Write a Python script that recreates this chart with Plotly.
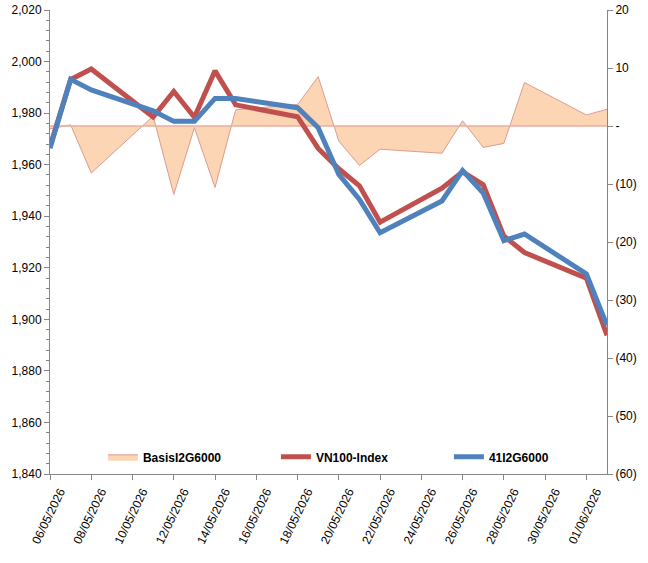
import plotly.graph_objects as go

dates = ["2026-05-06", "2026-05-07", "2026-05-08", "2026-05-11", "2026-05-12",
         "2026-05-13", "2026-05-14", "2026-05-15", "2026-05-18", "2026-05-19",
         "2026-05-20", "2026-05-21", "2026-05-22", "2026-05-25", "2026-05-26",
         "2026-05-27", "2026-05-28", "2026-05-29", "2026-06-01", "2026-06-02"]

vn100 = [1967.0, 1993.0, 1997.1, 1978.5, 1988.4, 1978.4, 1996.4, 1983.2, 1978.6, 1966.3,
         1958.4, 1951.8, 1937.7, 1950.9, 1957.2, 1952.2, 1932.3, 1925.9, 1916.0, 1893.8]

i41 = [1966.4, 1993.1, 1989.0, 1980.9, 1976.8, 1976.8, 1985.7, 1985.7, 1982.1, 1974.3,
       1956.2, 1946.5, 1933.6, 1945.9, 1957.7, 1949.0, 1930.5, 1933.1, 1917.6, 1897.6]

basis = [-0.5, 0.2, -8.1, 1.7, -11.8, -0.3, -10.6, 2.8, 3.7, 8.5,
         -2.6, -6.8, -4.0, -4.7, 0.9, -3.7, -3.0, 7.5, 1.9, 2.9]

baseline = [0, 0]

right_ticks = [-60, -50, -40, -30, -20, -10, 0, 10, 20]


def fmt_right(v):
    if v == 0:
        return "-"
    if v < 0:
        return "(%d)" % (-v)
    return "%d" % v


right_text = [fmt_right(v) for v in right_ticks]

FONT = "Arial, Liberation Sans, sans-serif"
AXIS_COL = "#868686"

fig = go.Figure()

fig.add_trace(go.Scatter(
    x=dates, y=basis, name="BasisI2G6000", mode="lines",
    fill="tozeroy", fillcolor="#FCD5B5",
    line=dict(color="#DB9C90", width=1),
    yaxis="y",
))
fig.add_trace(go.Scatter(
    x=[dates[0], dates[-1]], y=baseline, mode="lines", showlegend=False,
    hoverinfo="skip", line=dict(color="#E8ACA2", width=1.5), yaxis="y",
))
fig.add_trace(go.Scatter(
    x=dates, y=vn100, name="VN100-Index", mode="lines",
    line=dict(color="#C0504D", width=5), yaxis="y2",
))
fig.add_trace(go.Scatter(
    x=dates, y=i41, name="41I2G6000", mode="lines",
    line=dict(color="#4F81BD", width=5), yaxis="y2",
))

fig.update_layout(
    width=648, height=563,
    margin=dict(l=50, r=41, t=10, b=89),
    paper_bgcolor="white", plot_bgcolor="white",
    font=dict(family=FONT, size=12, color="black"),
    xaxis=dict(
        type="date",
        range=["2026-05-06", "2026-06-02"],
        tick0="2026-05-06", dtick=2 * 86400000,
        tickformat="%d/%m/%Y", tickangle=-64,
        ticks="outside", ticklen=5, tickcolor=AXIS_COL,
        showline=True, linecolor=AXIS_COL, linewidth=1,
        showgrid=False, zeroline=False,
        ticklabelshift=10, automargin=False,
        tickfont=dict(size=12, family=FONT, color="black"),
    ),
    yaxis=dict(
        side="right", range=[-60, 20],
        tickmode="array", tickvals=right_ticks, ticktext=right_text,
        ticks="outside", ticklen=5, tickcolor=AXIS_COL,
        showline=True, linecolor=AXIS_COL, linewidth=1,
        showgrid=False, zeroline=False, automargin=False,
        tickfont=dict(size=12, family=FONT, color="black"),
    ),
    yaxis2=dict(
        overlaying="y", side="left", range=[1840, 2020], dtick=20,
        tickformat=",d",
        ticks="outside", ticklen=5, tickcolor=AXIS_COL,
        minor=dict(dtick=4, ticks="outside", ticklen=3, tickcolor=AXIS_COL),
        showline=True, linecolor=AXIS_COL, linewidth=1,
        showgrid=False, zeroline=False, automargin=False,
        tickfont=dict(size=12, family=FONT, color="black"),
    ),
    legend=dict(
        orientation="h", x=0.095, y=0.037, xanchor="left", yanchor="middle",
        entrywidth=128, entrywidthmode="pixels",
        bgcolor="rgba(0,0,0,0)",
        font=dict(size=12, family=FONT, color="black", weight="bold"),
    ),
    showlegend=True,
)

fig.write_html("out.html")
